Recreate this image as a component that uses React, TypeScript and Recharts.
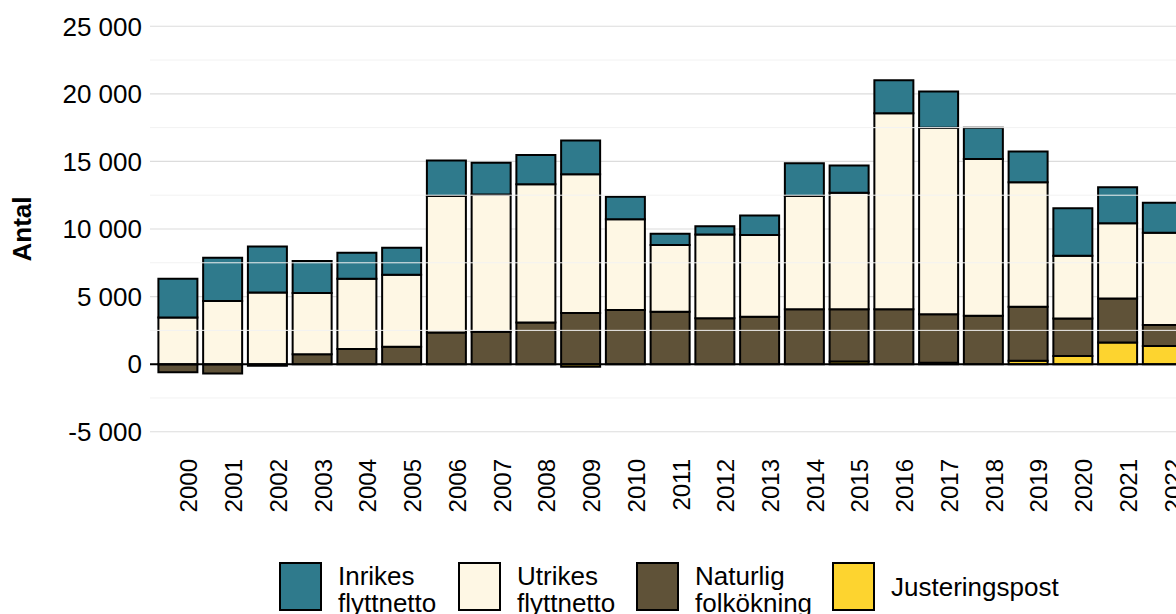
import React from "react";
import { BarChart, Bar, XAxis, YAxis, CartesianGrid, ReferenceLine } from "recharts";

const years = ["2000","2001","2002","2003","2004","2005","2006","2007","2008","2009","2010","2011","2012","2013","2014","2015","2016","2017","2018","2019","2020","2021","2022"];
const inrikes = [2850,3200,3400,2370,1920,2000,2620,2350,2150,2490,1670,840,600,1430,2420,2000,2430,2670,2320,2280,3510,2670,2230];
const utrikes = [3460,4670,5310,4520,5190,5330,10090,10170,10230,10270,6720,4940,6200,6060,8370,8620,14500,13800,11600,9200,4640,5560,6830];
const naturlig = [-600,-690,-120,740,1130,1280,2350,2390,3090,3780,4000,3870,3400,3500,4070,3870,4070,3600,3580,4000,2780,3260,1540];
const justering = [0,0,0,0,0,0,0,0,0,-200,0,0,0,0,0,200,0,100,0,250,600,1600,1350];

const majorTicks = [-5000, 0, 5000, 10000, 15000, 20000, 25000];
const minorTicks = [-2500, 2500, 7500, 12500, 17500, 22500];

const legendItems = [
  { key: "inrikes", label: ["Inrikes", "flyttnetto"], color: "#2F7A8C" },
  { key: "utrikes", label: ["Utrikes", "flyttnetto"], color: "#FEF7E4" },
  { key: "naturlig", label: ["Naturlig", "folkökning"], color: "#5F5238" },
  { key: "justering", label: ["Justeringspost"], color: "#FDD42F" },
];

const data = years.map((y, i) => ({
  year: y,
  justering: justering[i],
  naturlig: naturlig[i],
  utrikes: utrikes[i],
  inrikes: inrikes[i],
}));

const FONT = "'Liberation Sans', Arial, sans-serif";

const fmt = (v: number) => {
  const s = Math.abs(v).toString().replace(/\B(?=(\d{3})+(?!\d))/g, " ");
  return (v < 0 ? "-" : "") + s;
};

const XTick = (props: any) => {
  const { x, y, payload } = props;
  return (
    <text
      transform={`translate(${x + 11},${y - 1}) rotate(-90)`}
      textAnchor="end"
      dominantBaseline="central"
      fontSize={24}
      fontFamily={FONT}
      fill="#000"
    >
      {payload.value}
    </text>
  );
};

const YTitle = (props: any) => {
  const vb = props.viewBox || { x: 0, y: 0, height: 0 };
  const cy = vb.y + vb.height / 2;
  return (
    <text
      x={22}
      y={cy}
      transform={`rotate(-90, 22, ${cy})`}
      textAnchor="middle"
      dominantBaseline="central"
      fontSize={26}
      fontWeight="bold"
      fontFamily={FONT}
      fill="#000"
    >
      Antal
    </text>
  );
};

const legendWidths: Record<string, number> = { inrikes: 179, utrikes: 178, naturlig: 196, justering: 260 };

export default function App() {
  return (
    <div style={{ position: "fixed", left: 0, top: 0, width: 1176, height: 614, overflow: "hidden", background: "#fff" }}>
      <div style={{ position: "absolute", left: 0, top: 0 }}>
        <BarChart
          width={1200}
          height={560}
          data={data}
          stackOffset="sign"
          margin={{ top: 6, right: 10, left: 0, bottom: 0 }}
          barSize={39}
        >
          <CartesianGrid
            horizontal={true}
            vertical={false}
            stroke="#DCDCDC"
            strokeWidth={1.2}
            horizontalValues={majorTicks}
          />
          {minorTicks.map((t) => (
            <ReferenceLine key={t} y={t} stroke="#F2F2F2" strokeWidth={1} />
          ))}
          <XAxis
            dataKey="year"
            interval={0}
            tickLine={false}
            axisLine={false}
            height={108}
            padding={{ left: 5.4, right: 5.4 }}
            tick={<XTick />}
          />
          <YAxis
            width={150}
            domain={[-6500, 26500]}
            ticks={majorTicks}
            tickFormatter={fmt}
            tickLine={false}
            axisLine={false}
            tick={{ fontSize: 26, fill: "#000", fontFamily: FONT }}
            label={<YTitle />}
            allowDataOverflow={true}
          />
          <ReferenceLine y={0} stroke="#000" strokeWidth={2} />
          <Bar dataKey="justering" stackId="a" fill="#FDD42F" stroke="#000" strokeWidth={2} isAnimationActive={false} />
          <Bar dataKey="naturlig" stackId="a" fill="#5F5238" stroke="#000" strokeWidth={2} isAnimationActive={false} />
          <Bar dataKey="utrikes" stackId="a" fill="#FEF7E4" stroke="#000" strokeWidth={2} isAnimationActive={false} />
          <Bar dataKey="inrikes" stackId="a" fill="#2F7A8C" stroke="#000" strokeWidth={2} isAnimationActive={false} />
        </BarChart>
      </div>
      <div
        style={{
          position: "absolute",
          left: 279,
          top: 562,
          display: "flex",
          flexDirection: "row",
          alignItems: "flex-start",
          fontFamily: FONT,
          fontSize: 26,
          lineHeight: "27px",
          color: "#000",
        }}
      >
        {legendItems.map((it) => (
          <div key={it.key} style={{ display: "flex", alignItems: "flex-start", width: legendWidths[it.key], height: 56 }}>
            <div style={{ width: 39, height: 45, background: it.color, border: "2px solid #000", flexShrink: 0 }} />
            <div style={{ marginLeft: 16, whiteSpace: "nowrap", marginTop: it.label.length > 1 ? 1 : 12 }}>
              {it.label.map((l) => (
                <div key={l}>{l}</div>
              ))}
            </div>
          </div>
        ))}
      </div>
    </div>
  );
}
